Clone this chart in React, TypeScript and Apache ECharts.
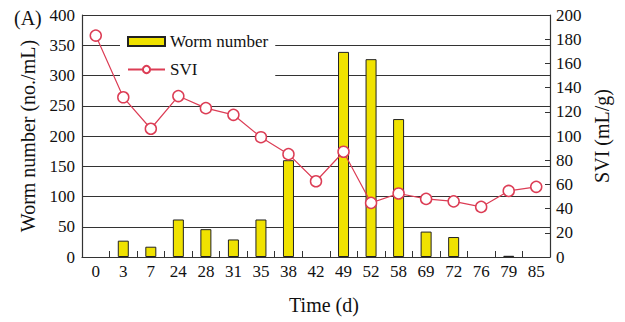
import React, { useEffect, useRef } from "react";
import * as echarts from "echarts";

const days = ["0", "3", "7", "24", "28", "31", "35", "38", "42", "49", "52", "58", "69", "72", "76", "79", "85"];
const wormNumber = [0, 27, 17, 62, 46, 29, 62, 160, 0, 339, 327, 228, 42, 33, 0, 2, 0];
const svi = [183, 132, 106, 133, 123, 117.5, 99, 85, 62.6, 87, 44.7, 52.5, 48, 46, 41.4, 54.6, 58];

const FONT = "Liberation Serif";
const AXIS = "#333333";

export default function App() {
  const ref = useRef<HTMLDivElement>(null);
  useEffect(() => {
    if (!ref.current) return;
    const chart = echarts.init(ref.current, undefined, { renderer: "svg" });
    chart.setOption({
      animation: false,
      backgroundColor: "#ffffff",
      textStyle: { fontFamily: FONT },
      grid: { left: 82, right: 75, top: 15, bottom: 65, containLabel: false },
      graphic: [
        {
          type: "text",
          left: 14,
          top: 8,
          style: { text: "(A)", font: `20px '${FONT}'`, fill: "#111" },
        },
      ],
      legend: {
        orient: "vertical",
        left: 120,
        top: 25,
        padding: [8, 7, 8, 7],
        backgroundColor: "#ffffff",
        itemWidth: 37,
        itemHeight: 9,
        itemGap: 11,
        textStyle: { fontFamily: FONT, fontSize: 17, color: "#111", lineHeight: 16 },
        data: [
          { name: "Worm number", icon: "rect" },
          { name: "SVI" },
        ],
        z: 10,
      },
      xAxis: {
        type: "category",
        data: days,
        boundaryGap: true,
        name: "Time (d)",
        nameLocation: "middle",
        nameGap: 38,
        nameTextStyle: { fontFamily: FONT, fontSize: 20, color: "#111", padding: [0, 0, 0, 16] },
        axisLine: { lineStyle: { color: AXIS, width: 1.2 } },
        axisTick: { show: true, inside: true, length: 6, lineStyle: { color: AXIS } },
        axisLabel: { interval: 0, fontFamily: FONT, fontSize: 17, color: "#111", margin: 6 },
        splitLine: { show: false },
      },
      yAxis: [
        {
          type: "value",
          min: 0,
          max: 400,
          interval: 50,
          name: "Worm number (no./mL)",
          nameLocation: "middle",
          nameGap: 44,
          nameTextStyle: { fontFamily: FONT, fontSize: 20, color: "#111" },
          axisLine: { show: true, lineStyle: { color: AXIS, width: 1.2 } },
          axisTick: { show: false },
          axisLabel: { fontFamily: FONT, fontSize: 17, color: "#111", margin: 7 },
          splitLine: { show: true, lineStyle: { color: AXIS, width: 1.2 } },
        },
        {
          type: "value",
          min: 0,
          max: 200,
          interval: 20,
          position: "right",
          name: "SVI (mL/g)",
          nameLocation: "middle",
          nameRotate: 90,
          nameGap: 34,
          nameTextStyle: { fontFamily: FONT, fontSize: 20, color: "#111" },
          axisLine: { show: true, lineStyle: { color: AXIS, width: 1.2 } },
          axisTick: { show: true, inside: true, length: 5, lineStyle: { color: AXIS } },
          axisLabel: { fontFamily: FONT, fontSize: 17, color: "#111", margin: 6 },
          splitLine: { show: false },
        },
      ],
      series: [
        {
          name: "Worm number",
          type: "bar",
          yAxisIndex: 0,
          data: wormNumber.map((v) => (v === 0 ? null : v)),
          barWidth: 11,
          itemStyle: { color: "#f0e200", borderColor: "#222222", borderWidth: 1 },
          z: 2,
        },
        {
          name: "SVI",
          type: "line",
          yAxisIndex: 1,
          data: svi,
          symbol: "circle",
          symbolSize: 11,
          lineStyle: { color: "#dc3d55", width: 1.2 },
          itemStyle: { color: "#ffffff", borderColor: "#dc3d55", borderWidth: 1.5 },
          z: 3,
        },
      ],
    });
    return () => chart.dispose();
  }, []);
  return (
    <div
      ref={ref}
      style={{ position: "absolute", left: 0, top: 0, width: 625, height: 322 }}
    />
  );
}
